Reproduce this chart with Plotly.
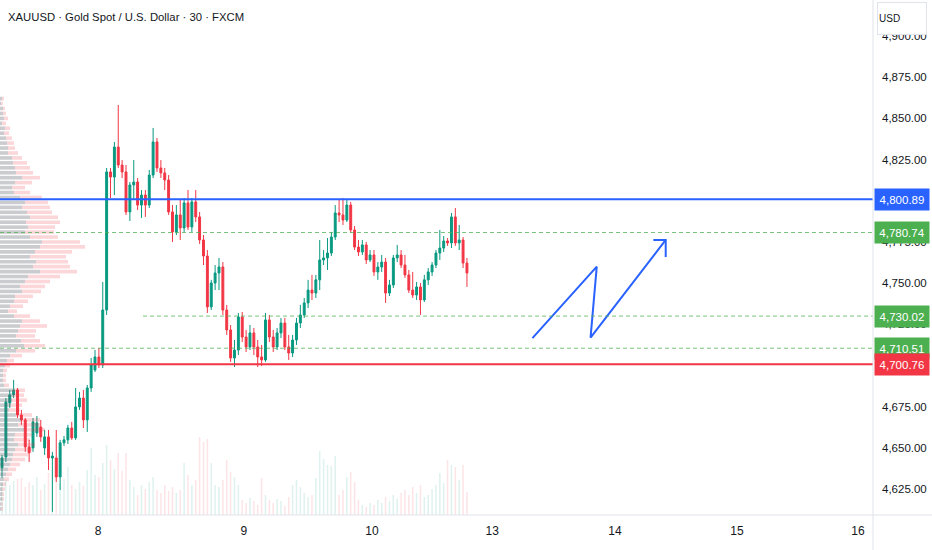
import plotly.graph_objects as go

# ---------------- data ----------------
opens = [4637.9, 4644.5, 4677.3, 4682.2, 4685.2, 4670.0, 4667.0, 4650.6, 4650.0, 4659.1,
         4662.7, 4650.0, 4656.7, 4643.9, 4643.9, 4632.4, 4653.1, 4654.9, 4662.1, 4656.1,
         4674.9, 4680.3, 4667.0, 4686.4, 4697.3, 4705.2, 4700.4, 4733.7, 4817.5, 4814.4,
         4832.6, 4821.7, 4817.5, 4793.2, 4809.6, 4811.4, 4797.4, 4803.5, 4797.4, 4815.6,
         4835.7, 4819.9, 4816.9, 4812.6, 4793.2, 4781.1, 4791.4, 4783.5, 4798.7, 4784.1,
         4799.3, 4790.2, 4776.2, 4766.5, 4735.6, 4750.1, 4756.2, 4759.8, 4733.7, 4721.6,
         4704.6, 4709.4, 4729.5, 4717.3, 4711.3, 4719.8, 4711.3, 4705.2, 4703.4, 4727.7,
         4717.3, 4711.3, 4719.8, 4725.8, 4711.3, 4707.6, 4715.5, 4725.8, 4730.7, 4738.0,
         4745.8, 4744.0, 4752.0, 4764.1, 4765.3, 4768.3, 4778.0, 4792.6, 4791.4, 4788.3,
         4797.4, 4782.3, 4771.9, 4768.9, 4773.2, 4764.1, 4767.1, 4756.8, 4759.8, 4762.8,
         4744.0, 4748.9, 4765.3, 4767.1, 4761.0, 4755.0, 4745.8, 4742.8, 4747.7, 4739.8,
         4752.0, 4756.8, 4761.0, 4768.3, 4771.3, 4775.6, 4774.4, 4790.2, 4774.4, 4776.2,
         4762.2]
highs = [4645.7, 4680.3, 4685.2, 4691.3, 4686.4, 4673.1, 4668.2, 4654.9, 4668.2, 4669.4,
         4667.0, 4660.9, 4660.9, 4647.6, 4660.9, 4654.9, 4657.3, 4664.0, 4665.8, 4686.4,
         4684.0, 4685.2, 4688.2, 4704.6, 4709.4, 4710.7, 4750.7, 4819.9, 4819.9, 4835.7,
         4858.1, 4824.7, 4821.7, 4811.4, 4824.7, 4813.8, 4806.5, 4806.5, 4818.7, 4844.2,
         4838.1, 4824.7, 4819.9, 4815.6, 4797.4, 4797.4, 4800.5, 4801.7, 4806.5, 4801.7,
         4806.5, 4793.2, 4779.2, 4770.1, 4752.0, 4761.0, 4765.3, 4762.8, 4736.8, 4724.6,
         4715.5, 4731.9, 4732.5, 4721.6, 4724.6, 4722.8, 4715.5, 4712.5, 4731.9, 4730.7,
         4721.6, 4722.8, 4728.9, 4728.9, 4718.6, 4718.6, 4728.9, 4736.8, 4741.0, 4752.0,
         4755.0, 4755.0, 4776.2, 4770.1, 4777.4, 4781.1, 4797.4, 4800.5, 4801.7, 4801.1,
         4799.3, 4784.7, 4776.2, 4776.2, 4775.0, 4770.1, 4770.1, 4762.8, 4767.1, 4765.3,
         4752.0, 4767.1, 4773.2, 4770.1, 4767.1, 4758.0, 4756.8, 4750.7, 4750.1, 4755.0,
         4759.2, 4762.8, 4770.1, 4782.3, 4778.6, 4777.4, 4792.6, 4795.6, 4785.3, 4778.0,
         4765.3]
lows = [4631.8, 4641.5, 4674.3, 4680.3, 4668.2, 4664.0, 4647.6, 4641.5, 4647.6, 4656.7,
        4653.7, 4645.7, 4636.6, 4611.2, 4629.4, 4624.5, 4651.2, 4652.4, 4654.9, 4654.9,
        4673.1, 4662.1, 4659.7, 4684.0, 4696.1, 4698.5, 4698.5, 4730.7, 4801.7, 4803.5,
        4819.9, 4813.8, 4791.4, 4787.7, 4800.5, 4794.4, 4789.6, 4790.2, 4795.6, 4813.8,
        4817.5, 4813.8, 4806.5, 4791.4, 4775.0, 4779.2, 4776.2, 4781.1, 4782.3, 4781.1,
        4787.1, 4773.8, 4761.0, 4731.9, 4733.7, 4745.8, 4745.8, 4730.7, 4718.6, 4702.2,
        4699.1, 4706.4, 4714.3, 4708.2, 4709.4, 4706.4, 4699.1, 4699.7, 4702.2, 4714.3,
        4708.2, 4709.4, 4716.7, 4709.4, 4703.4, 4705.2, 4712.5, 4722.8, 4728.9, 4734.9,
        4739.8, 4741.0, 4745.8, 4761.0, 4758.0, 4766.5, 4776.2, 4787.1, 4785.3, 4787.1,
        4780.5, 4770.1, 4766.5, 4767.1, 4761.6, 4762.8, 4754.4, 4752.0, 4756.8, 4738.0,
        4742.2, 4747.1, 4762.8, 4759.2, 4753.2, 4744.0, 4741.0, 4739.8, 4730.7, 4738.6,
        4748.9, 4754.4, 4759.2, 4764.1, 4768.9, 4772.6, 4771.3, 4772.6, 4770.1, 4759.2,
        4747.7]
closes = [4643.9, 4677.9, 4682.2, 4685.2, 4670.0, 4667.0, 4650.6, 4647.0, 4665.8, 4665.2,
          4656.7, 4656.7, 4643.9, 4645.1, 4632.4, 4653.1, 4654.9, 4662.1, 4656.1, 4674.9,
          4680.3, 4667.0, 4686.4, 4700.4, 4705.2, 4700.4, 4733.7, 4817.5, 4814.4, 4832.6,
          4821.7, 4817.5, 4793.2, 4809.6, 4811.4, 4797.4, 4803.5, 4797.4, 4815.6, 4835.7,
          4819.9, 4816.9, 4812.6, 4793.2, 4781.1, 4791.4, 4783.5, 4798.7, 4784.1, 4799.3,
          4790.2, 4776.2, 4766.5, 4735.6, 4750.1, 4756.2, 4759.8, 4733.7, 4721.6, 4704.6,
          4709.4, 4729.5, 4717.3, 4711.3, 4719.8, 4711.3, 4705.2, 4703.4, 4727.7, 4717.3,
          4711.3, 4719.8, 4725.8, 4711.3, 4707.6, 4715.5, 4725.8, 4730.7, 4738.0, 4745.8,
          4744.0, 4752.0, 4764.1, 4765.3, 4768.3, 4778.0, 4792.6, 4791.4, 4788.3, 4797.4,
          4782.3, 4771.9, 4768.9, 4773.2, 4764.1, 4767.1, 4756.8, 4759.8, 4762.8, 4744.0,
          4748.9, 4765.3, 4767.1, 4761.0, 4755.0, 4745.8, 4742.8, 4747.7, 4739.8, 4752.0,
          4756.8, 4761.0, 4768.3, 4771.3, 4775.6, 4774.4, 4790.2, 4774.4, 4776.2, 4762.2,
          4756.2]
volumes = [32, 35, 30, 34, 36, 37, 28, 33, 30, 38, 25, 31, 42, 45, 40, 32, 36, 48, 30, 26,
           33, 29, 45, 67, 40, 38, 52, 70, 55, 46, 62, 44, 62, 35, 28, 20, 30, 26, 33, 38,
           25, 22, 30, 24, 28, 22, 25, 52, 40, 30, 35, 78, 73, 76, 52, 30, 28, 35, 55, 43,
           38, 30, 15, 12, 17, 14, 10, 37, 20, 15, 12, 16, 14, 9, 18, 30, 35, 28, 22, 18,
           20, 37, 64, 56, 50, 49, 59, 20, 25, 38, 43, 33, 15, 10, 8, 12, 10, 15, 12, 18,
           14, 20, 16, 22, 25, 20, 28, 22, 30, 18, 20, 26, 30, 42, 32, 55, 50, 48, 35, 50,
           23]
bar_index = list(range(len(closes)))

# day labels on the time axis (bar-index position of each day start)
day_labels = ["8", "9", "10", "13", "14", "15", "16"]
day_tick_pos = [24.8, 62.4, 95.5, 126.5, 158.2, 189.7, 220.9]

# price axis (4,700 and 4,800 are fully covered by level tags in the reference)
price_ticks = [4625, 4650, 4675, 4725, 4750, 4775, 4825, 4850, 4875, 4900]

# horizontal levels
levels = [4800.89, 4780.74, 4730.02, 4710.51, 4700.76]
level_colors = ["#2962ff", "#4caf50", "#4caf50", "#4caf50", "#f23645"]
level_dash = ["solid", "4px,3px", "4px,3px", "4px,3px", "solid"]
level_width = [2, 1, 1, 1, 2]
level_start = [None, None, 36.4, None, None]

# session volume profile (left side)
vp_price = list(range(4862, 4612, -3))
vp_total = [4, 3, 5, 6, 8, 6, 10, 9, 12, 14, 15, 18, 22, 27, 30, 33, 40, 32, 25, 30,
            42, 48, 50, 52, 58, 60, 55, 54, 58, 80, 85, 72, 66, 68, 70, 77, 60, 50, 45, 41,
            33, 28, 23, 17, 30, 40, 47, 36, 35, 40, 45, 35, 22, 14, 10, 7, 6, 6, 9, 25,
            24, 27, 22, 20, 32, 40, 40, 45, 32, 30, 35, 32, 28, 25, 20, 16, 12, 9, 6, 5,
            4, 4, 3, 3]
vp_up = [2, 1, 3, 3, 4, 2, 5, 4, 6, 7, 8, 8, 12, 13, 15, 16, 22, 15, 12, 14,
         20, 25, 22, 27, 30, 26, 28, 25, 30, 42, 40, 35, 30, 36, 33, 40, 28, 25, 20, 22,
         15, 14, 10, 8, 14, 22, 20, 18, 16, 21, 24, 16, 10, 7, 5, 3, 3, 3, 4, 12,
         13, 12, 11, 9, 16, 21, 18, 24, 15, 14, 18, 15, 13, 12, 10, 8, 6, 4, 3, 2,
         2, 2, 1, 1]
vp_down = [t - u for t, u in zip(vp_total, vp_up)]

# hand-drawn zigzag projection
zig_x = [136.9, 153.5, 151.9, 171.3]
zig_y = [4716.6, 4760.0, 4716.9, 4776.2]
head_x = [168.1, 171.3, 171.3]
head_y = [4776.2, 4776.2, 4765.9]

# ---------------- styling ----------------
GREEN = "#089981"
RED = "#f23645"
TXT = "#131722"
FONT = "Liberation Sans, Arial, sans-serif"

X_RANGE = [-0.52, 224.8]
Y_RANGE = [4609.3, 4921.84]

fig = go.Figure()

vol_colors = ["rgba(8,153,129,0.13)" if c >= o else "rgba(242,54,69,0.13)"
              for o, c in zip(opens, closes)]
fig.add_trace(go.Bar(x=bar_index, y=volumes, marker_color=vol_colors,
                     marker_line_width=0, width=0.4, xaxis="x", yaxis="y",
                     hoverinfo="skip"))

fig.add_trace(go.Candlestick(
    x=bar_index, open=opens, high=highs, low=lows, close=closes,
    xaxis="x", yaxis="y2", whiskerwidth=0,
    increasing=dict(line=dict(color=GREEN, width=1), fillcolor=GREEN),
    decreasing=dict(line=dict(color=RED, width=1), fillcolor=RED),
    hoverinfo="skip"))

fig.add_trace(go.Bar(y=vp_price, x=vp_up, orientation="h", xaxis="x2", yaxis="y2",
                     marker_color="rgba(93,96,107,0.32)", marker_line_width=0,
                     width=2.2, hoverinfo="skip"))
fig.add_trace(go.Bar(y=vp_price, x=vp_down, base=vp_up, orientation="h",
                     xaxis="x2", yaxis="y2",
                     marker_color="rgba(242,54,69,0.2)", marker_line_width=0,
                     width=2.2, hoverinfo="skip"))

fig.add_trace(go.Scatter(x=zig_x, y=zig_y, mode="lines", xaxis="x", yaxis="y2",
                         line=dict(color="#2962ff", width=2), hoverinfo="skip"))
fig.add_trace(go.Scatter(x=head_x, y=head_y, mode="lines", xaxis="x", yaxis="y2",
                         line=dict(color="#2962ff", width=2), hoverinfo="skip"))

shapes = []
annotations = []
for lv, col, dsh, wd, st in zip(levels, level_colors, level_dash, level_width, level_start):
    shapes.append(dict(type="line", xref="x", yref="y2",
                       x0=X_RANGE[0] if st is None else st, x1=X_RANGE[1],
                       y0=lv, y1=lv, layer="above",
                       line=dict(color=col if wd == 2 else "rgba(76,175,80,0.75)",
                                 width=wd, dash=dsh)))
    annotations.append(dict(xref="paper", yref="y2", x=1, y=lv, xanchor="left",
                            yanchor="middle", xshift=1, text=f"{lv:,.2f}",
                            showarrow=False, bgcolor=col, width=52, height=19,
                            borderpad=1, align="center",
                            font=dict(color="white", size=11.5, family=FONT)))

# frame lines (price-scale divider and time-scale separator)
shapes.append(dict(type="line", xref="paper", yref="paper", x0=1, x1=1, y0=-0.08, y1=1,
                   line=dict(color="#e0e3eb", width=1)))
shapes.append(dict(type="line", xref="paper", yref="paper", x0=0, x1=1.08, y0=0, y1=0,
                   line=dict(color="#e0e3eb", width=1)))

annotations.append(dict(xref="paper", yref="paper", x=0, y=1, xanchor="left",
                        yanchor="top", xshift=6, yshift=-9,
                        text="XAUUSD · Gold Spot / U.S. Dollar · 30 · FXCM",
                        showarrow=False, font=dict(color=TXT, size=11.3, family=FONT)))
annotations.append(dict(xref="paper", yref="paper", x=1, y=1, xanchor="left",
                        yanchor="top", xshift=4, yshift=-2, text="USD", align="left",
                        showarrow=False, bgcolor="white", bordercolor="#e0e3eb",
                        borderwidth=1, width=46, height=29, borderpad=1,
                        font=dict(color=TXT, size=10, family=FONT)))

fig.update_layout(
    width=932, height=550,
    margin=dict(l=0, r=59, t=0, b=35),
    paper_bgcolor="white", plot_bgcolor="white",
    showlegend=False, barmode="overlay",
    xaxis=dict(range=X_RANGE, tickvals=day_tick_pos, ticktext=day_labels,
               showgrid=False, zeroline=False, showline=False, ticks="",
               ticklabelstandoff=7,
               rangeslider=dict(visible=False), fixedrange=True,
               tickfont=dict(color=TXT, size=12, family=FONT)),
    yaxis=dict(range=[0, 515], visible=False, fixedrange=True),
    yaxis2=dict(overlaying="y", side="right", anchor="x", range=Y_RANGE,
                tickvals=price_ticks, ticktext=[f"{v:,.2f}" for v in price_ticks],
                showgrid=False, zeroline=False, showline=False, ticks="",
                ticklabelstandoff=8, fixedrange=True,
                tickfont=dict(color=TXT, size=11.5, family=FONT)),
    xaxis2=dict(overlaying="x", range=[0, 873], visible=False, fixedrange=True),
    shapes=shapes, annotations=annotations,
)

fig.write_html("out.html",
               config={"displayModeBar": False},
               post_script="document.body.style.margin='0';"
                           "document.body.style.overflow='hidden';")
